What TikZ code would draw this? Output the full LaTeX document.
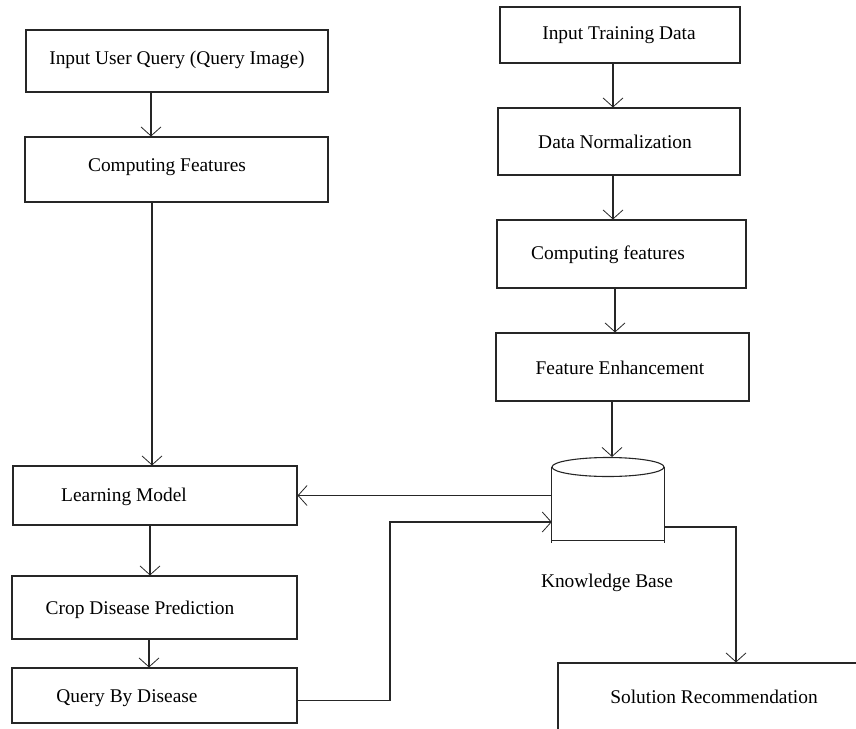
\documentclass[tikz,border=0pt]{standalone}
\usepackage{fontspec}
\setmainfont{Liberation Serif}
\usetikzlibrary{arrows.meta,positioning,calc,shapes.geometric}

\tikzset{
  box/.style={draw=black!85, line width=1.1pt, inner sep=0pt},
  lbl/.style={font=\fontsize{19.4}{23}\selectfont, inner sep=0pt},
  wire/.style={draw=black!85, line width=1.1pt},
  arr/.style={wire, -{Straight Barb[length=9pt,width=20pt,line width=0.8pt]}},
}

\begin{document}
\begin{tikzpicture}[x=1pt, y=-1pt]
  \path[use as bounding box, clip] (0,0) rectangle (856,728);
  % Query side
  \node[box, minimum width=302, minimum height=62] (query) at (177,61) {};
  \node[lbl] at (177,60) {Input User Query (Query Image)};
  \node[box, minimum width=303, minimum height=65] (feat) at (176.5,169.5) {};
  \node[lbl] at (167,167) {Computing Features};
  \node[box, minimum width=284, minimum height=59] (lm) at (155,495.5) {};
  \node[lbl] at (124,497) {Learning Model};
  \node[box, minimum width=285, minimum height=63] (cdp) at (154.5,607.5) {};
  \node[lbl] at (140,610) {Crop Disease Prediction};
  \node[box, minimum width=285, minimum height=55] (qbd) at (154.5,695.5) {};
  \node[lbl] at (127,698) {Query By Disease};
  % Training side
  \node[box, minimum width=240, minimum height=56] (itd) at (620,35) {};
  \node[lbl] at (619,35) {Input Training Data};
  \node[box, minimum width=242, minimum height=67] (dn) at (619,141.5) {};
  \node[lbl] at (615,142) {Data Normalization};
  \node[box, minimum width=249, minimum height=68] (cf) at (621.5,254) {};
  \node[lbl] at (608,255) {Computing features};
  \node[box, minimum width=253, minimum height=68] (fe) at (622.5,367) {};
  \node[lbl] at (620,368) {Feature Enhancement};
  % Knowledge base
  \node[inner sep=0pt, minimum width=112, minimum height=73] (kb) at (608,503.5) {};
  \node[ellipse, draw=black!85, line width=1.1pt, inner sep=0pt,
        minimum width=112, minimum height=19] (kbtop) at (608,467) {};
  \draw[wire] (kb.north west) -- ++(0,76);
  \draw[wire] (kb.north east) -- ++(0,76);
  \draw[wire] (kb.south west) -- (kb.south east);
  \node[lbl] (kblbl) at (607,583) {Knowledge Base};
  \node[box, minimum width=312, minimum height=68] (sol) at (714,697) {};
  \node[lbl] at (714,697) {Solution Recommendation};
  % Connectors
  \draw[arr] (151,0 |- query.south) -- (151,0 |- feat.north);
  \draw[arr] (152,0 |- feat.south) -- (152,0 |- lm.north);
  \draw[arr] (150,0 |- lm.south) -- (150,0 |- cdp.north);
  \draw[arr] (149,0 |- cdp.south) -- (149,0 |- qbd.north);
  \draw[arr] (613,0 |- itd.south) -- (613,0 |- dn.north);
  \draw[arr] (613,0 |- dn.south) -- (613,0 |- cf.north);
  \draw[arr] (615,0 |- cf.south) -- (615,0 |- fe.north);
  \draw[arr] (612,0 |- fe.south) -- (612,0 |- kbtop.north);
  \draw[arr] (kb.west |- lm.east) -- (lm.east);
  \draw[arr] ([yshift=-5pt]qbd.east) -| (390,522) -- (kb.west |- 0,522);
  \draw[arr] (kb.east |- 0,527) -| (736,0 |- sol.north);
\end{tikzpicture}
\end{document}
